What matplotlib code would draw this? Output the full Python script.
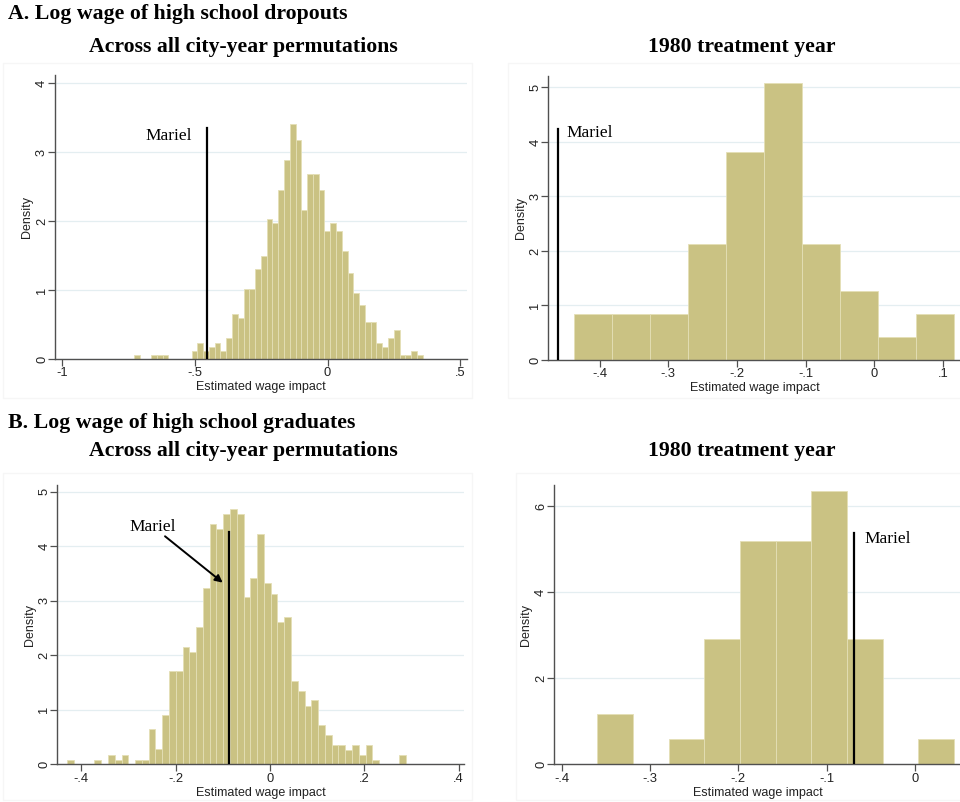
import matplotlib
matplotlib.use("Agg")
import matplotlib.pyplot as plt
import numpy as np
from matplotlib.patches import Rectangle

# ---------------- data ----------------
# Panel A, all city-year permutations: 50 bins
a_all_start = -0.731
a_all_width = 0.0218
a_all_density = [0.058, 0, 0, 0.058, 0.058, 0.058, 0, 0, 0, 0,
                 0.116, 0.237, 0.116, 0.18, 0.237, 0.116, 0.30, 0.66, 0.60, 1.02,
                 1.02, 1.31, 1.50, 2.03, 1.98, 2.45, 2.88, 3.41, 3.17, 2.16,
                 2.69, 2.69, 2.45, 1.86, 1.98, 1.86, 1.56, 1.25, 0.96, 0.78,
                 0.53, 0.53, 0.237, 0.18, 0.30, 0.42, 0.06, 0.06, 0.116, 0.06]
a_all_mariel = -0.455

# Panel A, 1980 treatment year: 10 bins
a_1980_start = -0.4369
a_1980_width = 0.0553
a_1980_density = [0.85, 0.85, 0.85, 2.12, 3.81, 5.09, 2.12, 1.27, 0.43, 0.85]
a_1980_mariel = -0.4606

# Panel B, all city-year permutations: 50 bins
b_all_start = -0.4297
b_all_width = 0.01437
b_all_density = [0.086, 0, 0, 0, 0.086, 0, 0.17, 0.086, 0.17, 0,
                 0.086, 0.086, 0.64, 0.28, 0.90, 1.71, 1.71, 2.15, 2.06, 2.52,
                 3.23, 4.41, 4.32, 4.58, 4.68, 4.59, 3.06, 3.41, 4.23, 3.32,
                 3.13, 2.60, 2.70, 1.53, 1.35, 1.07, 1.17, 0.72, 0.53, 0.355,
                 0.355, 0.26, 0.355, 0.17, 0.355, 0.086, 0, 0, 0, 0.17]
b_all_mariel = -0.087

# Panel B, 1980 treatment year: 10 bins
b_1980_start = -0.3597
b_1980_width = 0.0404
b_1980_density = [1.16, 0, 0.58, 2.90, 5.19, 5.19, 6.35, 2.90, 0, 0.58]
b_1980_mariel = -0.0694

# tick values / labels
a_all_xticks = [-1, -0.5, 0, 0.5]
a_all_xlabels = ["-1", "-.5", "0", ".5"]
a_all_yticks = [0, 1, 2, 3, 4]
a_1980_xticks = [-0.4, -0.3, -0.2, -0.1, 0, 0.1]
a_1980_xlabels = ["-.4", "-.3", "-.2", "-.1", "0", ".1"]
a_1980_yticks = [0, 1, 2, 3, 4, 5]
b_all_xticks = [-0.4, -0.2, 0, 0.2, 0.4]
b_all_xlabels = ["-.4", "-.2", "0", ".2", ".4"]
b_all_yticks = [0, 1, 2, 3, 4, 5]
b_1980_xticks = [-0.4, -0.3, -0.2, -0.1, 0]
b_1980_xlabels = ["-.4", "-.3", "-.2", "-.1", "0"]
b_1980_yticks = [0, 2, 4, 6]

title_a = "A. Log wage of high school dropouts"
title_b = "B. Log wage of high school graduates"
sub_all = "Across all city-year permutations"
sub_1980 = "1980 treatment year"
xlab = "Estimated wage impact"
ylab = "Density"
mariel = "Mariel"

# ---------------- style ----------------
BAR = "#cac283"
BAR_EDGE = "#e4dfb6"
AXC = "#505050"
GRID = "#e4eef1"
SANS = ["Liberation Sans", "DejaVu Sans"]
SERIF = ["Liberation Serif", "DejaVu Serif"]

W, H = 960, 802
fig = plt.figure(figsize=(W / 100, H / 100), dpi=100)


def px_axes(left, top, right, bottom):
    return fig.add_axes([left / W, 1 - bottom / H, (right - left) / W, (bottom - top) / H])


# faint panel frames
for (l, t, r, b) in [(3, 63, 472, 398), (508, 63, 962, 398),
                     (3, 473, 472, 800), (516, 473, 962, 800)]:
    fig.patches.append(Rectangle((l / W, 1 - b / H), (r - l) / W, (b - t) / H,
                                 transform=fig.transFigure, fill=False,
                                 edgecolor="#f6f6f6", linewidth=1.0))


def draw_hist(ax, start, width, dens, xlim, ylim, xticks, xlabels, yticks):
    dens = np.asarray(dens, dtype=float)
    edges = start + width * np.arange(len(dens))
    m = dens > 0
    ax.bar(edges[m], dens[m], width=width, align="edge", color=BAR,
           edgecolor=BAR_EDGE, linewidth=0.6, zorder=2)
    ax.set_xlim(*xlim)
    ax.set_ylim(*ylim)
    ax.set_xticks(xticks)
    ax.set_xticklabels(xlabels, family=SANS, fontsize=9.3)
    ax.set_yticks(yticks)
    ax.set_yticklabels([str(v) for v in yticks], family=SANS, fontsize=9.3,
                       rotation=90, va="center")
    ax.yaxis.grid(True, color=GRID, linewidth=0.9, zorder=0)
    ax.set_axisbelow(True)
    for s in ("top", "right"):
        ax.spines[s].set_visible(False)
    for s in ("left", "bottom"):
        ax.spines[s].set_color(AXC)
        ax.spines[s].set_linewidth(1.0)
        ax.spines[s].set_zorder(3)
    ax.tick_params(direction="out", length=5, width=0.9, color=AXC,
                   labelcolor="#222222")
    ax.tick_params(axis="x", pad=1)
    ax.tick_params(axis="y", pad=0)
    ax.set_xlabel(xlab, family=SANS, fontsize=9, labelpad=1.5, color="#222222")
    ax.set_ylabel(ylab, family=SANS, fontsize=9, labelpad=2, color="#222222")
    ax.set_facecolor("white")


# ---- Panel A left ----
ax1 = px_axes(55, 75, 466.7, 359)
draw_hist(ax1, a_all_start, a_all_width, a_all_density, (-1.028, 0.525), (0, 4.12),
          a_all_xticks, a_all_xlabels, a_all_yticks)
ax1.plot([a_all_mariel, a_all_mariel], [0, 3.35], color="black", lw=1.6, zorder=4)
ax1.text(a_all_mariel - 0.058, 3.24, mariel, family=SERIF, fontsize=12.5,
         ha="right", va="center")

# ---- Panel A right ----
ax2 = px_axes(548.3, 76, 962, 360)
draw_hist(ax2, a_1980_start, a_1980_width, a_1980_density, (-0.4747, 0.1277), (0, 5.21),
          a_1980_xticks, a_1980_xlabels, a_1980_yticks)
ax2.plot([a_1980_mariel, a_1980_mariel], [0, 4.23], color="black", lw=1.6, zorder=4)
ax2.text(a_1980_mariel + 0.0125, 4.17, mariel, family=SERIF, fontsize=12.5,
         ha="left", va="center")

# ---- Panel B left ----
ax3 = px_axes(57.3, 485, 464.3, 764.3)
draw_hist(ax3, b_all_start, b_all_width, b_all_density, (-0.451, 0.412), (0, 5.12),
          b_all_xticks, b_all_xlabels, b_all_yticks)
ax3.plot([b_all_mariel, b_all_mariel], [0, 4.26], color="black", lw=1.6, zorder=4)
ax3.text(-0.2495, 4.35, mariel, family=SERIF, fontsize=12.5, ha="center", va="center")
ax3.annotate("", xy=(-0.1003, 3.33), xytext=(-0.2226, 4.18),
             arrowprops=dict(arrowstyle="-|>", color="black", lw=1.4,
                             mutation_scale=11, shrinkA=0, shrinkB=0), zorder=5)

# ---- Panel B right ----
ax4 = px_axes(554, 485, 962, 764.3)
draw_hist(ax4, b_1980_start, b_1980_width, b_1980_density, (-0.4087, 0.0532), (0, 6.49),
          b_1980_xticks, b_1980_xlabels, b_1980_yticks)
ax4.plot([b_1980_mariel, b_1980_mariel], [0, 5.37], color="black", lw=1.6, zorder=4)
ax4.text(b_1980_mariel + 0.0125, 5.23, mariel, family=SERIF, fontsize=12.5,
         ha="left", va="center")

# ---- titles ----
TS = 15.7
fig.text(8 / W, 1 - 14 / H, title_a, family=SERIF, fontsize=TS, fontweight="bold",
         ha="left", va="center")
fig.text(243 / W, 1 - 47 / H, sub_all, family=SERIF, fontsize=TS, fontweight="bold",
         ha="center", va="center")
fig.text(741.5 / W, 1 - 47 / H, sub_1980, family=SERIF, fontsize=TS, fontweight="bold",
         ha="center", va="center")
fig.text(8 / W, 1 - 423 / H, title_b, family=SERIF, fontsize=TS, fontweight="bold",
         ha="left", va="center")
fig.text(243 / W, 1 - 451 / H, sub_all, family=SERIF, fontsize=TS, fontweight="bold",
         ha="center", va="center")
fig.text(741.5 / W, 1 - 451 / H, sub_1980, family=SERIF, fontsize=TS, fontweight="bold",
         ha="center", va="center")

fig.savefig("out.png", dpi=100, facecolor="white")
